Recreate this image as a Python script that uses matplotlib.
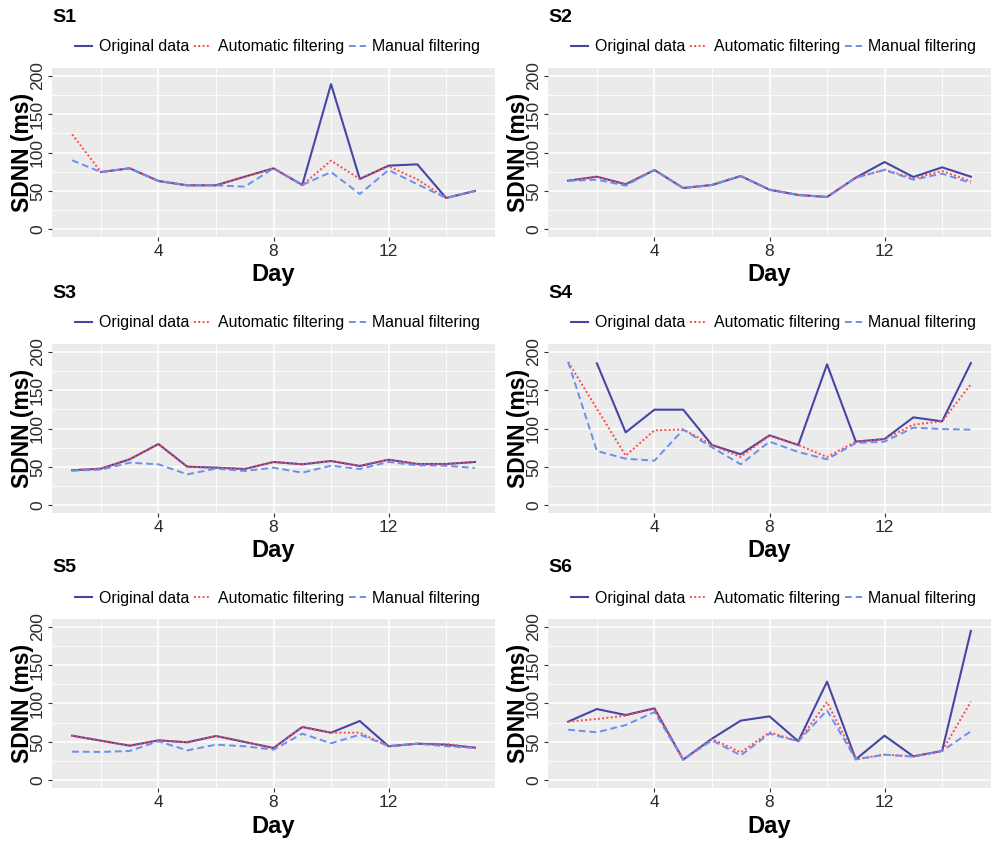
import numpy as np
import matplotlib
matplotlib.use("Agg")
import matplotlib.pyplot as plt
from matplotlib.ticker import MultipleLocator, FixedLocator

plt.rcParams['font.family'] = ['Liberation Sans', 'DejaVu Sans']

nan = np.nan
days = list(range(1, 16))
subjects = ["S1", "S2", "S3", "S4", "S5", "S6"]
series_names = ["Original data", "Automatic filtering", "Manual filtering"]

s1_orig = [nan, 74.6, 79.4, 62.9, 57.3, 57.3, 68.5, 79.4, 57.7, 189.0, 65.5, 82.9, 84.6, 40.8, 49.9]
s1_auto = [123.6, 74.6, 79.4, 62.9, 57.3, 57.3, 68.5, 79.4, 57.7, 89.4, 65.5, 82.0, 65.0, 40.8, 49.9]
s1_man = [89.8, 74.6, 79.4, 62.9, 57.3, 57.3, 55.5, 79.4, 57.7, 74.6, 46.0, 77.2, 58.6, 40.8, 49.9]

s2_orig = [63.3, 68.5, 58.6, 77.2, 53.8, 57.7, 69.4, 51.6, 44.7, 42.1, 67.2, 87.6, 68.1, 80.7, 68.5]
s2_auto = [63.3, 68.5, 58.6, 77.2, 53.8, 57.7, 69.4, 51.6, 44.7, 42.1, 67.2, 77.7, 66.4, 75.9, 62.5]
s2_man = [63.0, 64.6, 56.8, 77.2, 53.8, 57.7, 69.4, 51.6, 44.7, 42.1, 67.2, 77.2, 64.6, 72.5, 60.3]

s3_orig = [45.6, 47.7, 59.9, 79.8, 50.3, 49.0, 47.3, 56.4, 53.4, 57.7, 51.2, 59.4, 53.8, 53.8, 56.4]
s3_auto = [45.6, 47.7, 59.9, 79.8, 50.3, 49.0, 47.3, 56.4, 53.4, 57.7, 51.2, 59.4, 53.8, 53.8, 56.4]
s3_man = [45.1, 46.4, 55.5, 53.4, 40.3, 47.7, 44.7, 49.0, 42.5, 51.6, 47.3, 56.4, 52.0, 51.6, 48.6]

s4_orig = [nan, 184.8, 95.0, 124.5, 124.5, 78.5, 66.4, 91.1, 78.5, 183.5, 82.9, 86.3, 114.5, 109.3, 185.2]
s4_auto = [186.6, 125.8, 64.6, 97.6, 98.9, 78.5, 62.9, 90.7, 78.5, 62.9, 82.9, 86.3, 105.0, 109.3, 157.5]
s4_man = [186.6, 70.7, 60.7, 58.1, 98.5, 75.5, 53.4, 82.9, 69.4, 59.9, 81.1, 82.9, 101.1, 99.3, 98.5]

s5_orig = [58.1, 51.6, 45.1, 52.0, 49.5, 57.7, 49.9, 42.1, 69.4, 62.0, 77.2, 44.3, 47.7, 46.4, 42.5]
s5_auto = [58.1, 51.6, 45.1, 52.0, 49.5, 57.7, 49.9, 42.1, 69.4, 62.0, 62.0, 44.3, 47.7, 47.3, 42.5]
s5_man = [37.3, 36.9, 38.2, 50.8, 39.0, 46.4, 44.3, 39.9, 60.7, 48.2, 59.4, 44.7, 47.7, 44.3, 42.1]

s6_orig = [76.4, 92.8, 85.0, 93.7, 26.9, 54.2, 77.7, 83.3, 50.8, 128.4, 27.3, 58.1, 31.2, 38.2, 194.4]
s6_auto = [76.4, 79.8, 84.2, 93.3, 26.9, 53.8, 36.4, 62.5, 50.8, 102.0, 27.3, 33.4, 31.2, 38.2, 102.4]
s6_man = [65.9, 62.5, 72.0, 88.9, 26.9, 52.0, 32.5, 60.7, 50.8, 91.1, 27.3, 33.4, 30.8, 38.2, 63.8]

all_data = [
    (s1_orig, s1_auto, s1_man),
    (s2_orig, s2_auto, s2_man),
    (s3_orig, s3_auto, s3_man),
    (s4_orig, s4_auto, s4_man),
    (s5_orig, s5_auto, s5_man),
    (s6_orig, s6_auto, s6_man),
]

col_orig = "#4646a6"
col_auto = "#ff4a4a"
col_man = "#6b8ff0"

W, H = 992, 843
fig = plt.figure(figsize=(W / 100, H / 100), dpi=100)

# panel boxes in pixels: left, right, top, bottom
cols = [(52, 495), (548, 991)]
rows = [(68, 237), (344, 513), (619, 788)]

for i, name in enumerate(subjects):
    (x0, x1) = cols[i % 2]
    (y0, y1) = rows[i // 2]
    ax = fig.add_axes([x0 / W, 1 - y1 / H, (x1 - x0) / W, (y1 - y0) / H])
    ax.set_facecolor("#ebebeb")
    for sp in ax.spines.values():
        sp.set_visible(False)

    orig, auto, man = all_data[i]
    ax.plot(days, orig, color=col_orig, lw=1.5, ls="-", label=series_names[0], zorder=3)
    ax.plot(days, auto, color=col_auto, lw=1.4, ls=(0, (1, 1.2)), label=series_names[1], zorder=4)
    ax.plot(days, man, color=col_man, lw=1.4, ls=(0, (3.5, 2)), label=series_names[2], zorder=5)

    ax.set_xlim(0.3, 15.7)
    ax.set_ylim(-10, 210)
    ax.xaxis.set_major_locator(FixedLocator([4, 8, 12]))
    ax.xaxis.set_minor_locator(FixedLocator([2, 6, 10, 14]))
    ax.yaxis.set_major_locator(MultipleLocator(50))
    ax.yaxis.set_minor_locator(FixedLocator([25, 75, 125, 175]))
    ax.grid(which="major", color="white", lw=1.2, zorder=0)
    ax.grid(which="minor", color="white", lw=0.6, zorder=0)
    ax.set_axisbelow(True)
    ax.tick_params(which="major", length=3, width=0.8, color="#333333",
                   labelsize=12.5, labelcolor="#2a2a2a", pad=2)
    ax.tick_params(which="minor", length=0)
    for lab in ax.get_yticklabels():
        lab.set_rotation(90)
        lab.set_va("center")

    ax.set_ylabel("SDNN (ms)", fontsize=16.5, fontweight="bold", va="center")
    ax.yaxis.set_label_coords(-29 / (x1 - x0), 0.5)
    ax.set_xlabel("Day", fontsize=17, fontweight="bold", va="center")
    ax.xaxis.set_label_coords(0.5, -38 / (y1 - y0))

    ax.text(0, 1 + 51 / (y1 - y0), name, transform=ax.transAxes,
            fontsize=14, fontweight="bold", ha="left", va="center")

    leg = ax.legend(loc="center left", bbox_to_anchor=(23 / (x1 - x0), 1 + 21 / (y1 - y0)),
                    ncol=3, frameon=False, fontsize=11.4, handlelength=1.1,
                    handletextpad=0.4, columnspacing=0.3, borderaxespad=0, borderpad=0)

fig.savefig("out.png", dpi=100)
